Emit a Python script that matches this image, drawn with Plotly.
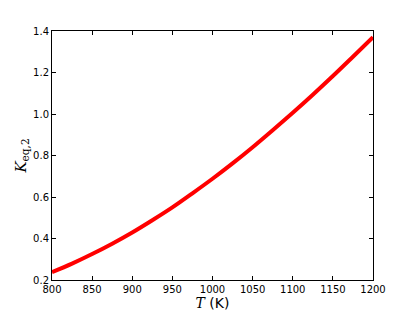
import plotly.graph_objects as go

T_values = [800, 825, 850, 875, 900, 925, 950, 975, 1000, 1025, 1050, 1075, 1100, 1125, 1150, 1175, 1200]
K_values = [0.238, 0.279, 0.325, 0.375, 0.429, 0.488, 0.550, 0.618, 0.688, 0.762, 0.840, 0.922, 1.006, 1.093, 1.183, 1.276, 1.370]
x_ticks = [800, 850, 900, 950, 1000, 1050, 1100, 1150, 1200]
y_ticks = [0.2, 0.4, 0.6, 0.8, 1.0, 1.2, 1.4]

fig = go.Figure()
fig.add_trace(go.Scatter(x=T_values, y=K_values, mode="lines",
                         line=dict(color="#ff0000", width=4, shape="spline"),
                         showlegend=False, hoverinfo="skip"))

axis_common = dict(showline=True, linecolor="black", linewidth=1, mirror="ticks",
                   ticks="inside", ticklen=4, tickcolor="black", tickwidth=1,
                   showgrid=False, zeroline=False, automargin=False,
                   tickfont=dict(family="DejaVu Sans", size=10, color="black"))

fig.update_layout(
    width=415, height=312,
    margin=dict(l=52, r=42, t=31, b=32),
    paper_bgcolor="white", plot_bgcolor="white",
    xaxis=dict(range=[800, 1200], tickvals=x_ticks,
               ticktext=[str(v) for v in x_ticks],
               title=dict(text="<span style='font-family:DejaVu Serif'><i>T</i></span> (K)",
                          font=dict(family="DejaVu Sans", size=14, color="black"), standoff=0),
               **axis_common),
    yaxis=dict(range=[0.2, 1.4], tickvals=y_ticks,
               ticktext=[f"{v:.1f}" for v in y_ticks],
               title=dict(text="<i>K</i><sub>eq,2</sub>",
                          font=dict(family="DejaVu Serif", size=15, color="black"), standoff=2),
               **axis_common),
)

fig.write_html("out.html", config={"displayModeBar": False, "staticPlot": True},
               post_script="document.body.style.margin='0';document.body.style.overflow='hidden';")
